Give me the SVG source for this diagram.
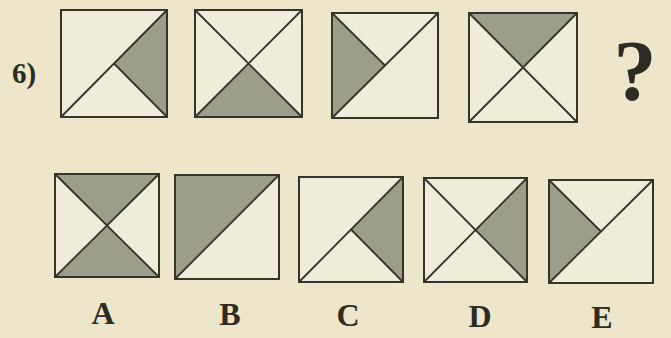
<svg xmlns="http://www.w3.org/2000/svg" width="671" height="338" viewBox="0 0 671 338">
<style>
.bg{fill:#ede6cb}
.box{fill:#efedda}
.fr{fill:none;stroke:#35342a;stroke-width:2}
.sh{fill:#9d9d8b}
.ln{stroke:#35342a;stroke-width:1.8;fill:none;stroke-linecap:round}
.t{font-family:"Liberation Serif",serif;font-weight:bold;fill:#2e2c22}
</style>
<rect class="bg" x="0" y="0" width="671" height="338"/>
<text class="t" x="12" y="83" font-size="29">6)</text>
<g id="q1">
<rect class="box" x="61" y="10" width="106" height="107"/>
<polygon class="sh" points="167,10 167,117 114,63.5"/>
<path class="ln" d="M61,117 L167,10 M114,63.5 L167,117"/>
<rect class="fr" x="61" y="10" width="106" height="107"/>
</g>
<g id="q2">
<rect class="box" x="195" y="10" width="107" height="107"/>
<polygon class="sh" points="195,117 302,117 248.5,63.5"/>
<path class="ln" d="M195,117 L302,10 M195,10 L302,117"/>
<rect class="fr" x="195" y="10" width="107" height="107"/>
</g>
<g id="q3">
<rect class="box" x="332" y="13" width="106" height="105"/>
<polygon class="sh" points="332,13 332,118 385,65.5"/>
<path class="ln" d="M332,118 L438,13 M332,13 L385,65.5"/>
<rect class="fr" x="332" y="13" width="106" height="105"/>
</g>
<g id="q4">
<rect class="box" x="469" y="13" width="108" height="109"/>
<polygon class="sh" points="469,13 577,13 523,67.5"/>
<path class="ln" d="M469,122 L577,13 M469,13 L577,122"/>
<rect class="fr" x="469" y="13" width="108" height="109"/>
</g>
<text class="t" x="635" y="100" font-size="86" text-anchor="middle">?</text>
<g id="A">
<rect class="box" x="55" y="174" width="104" height="103"/>
<polygon class="sh" points="55,174 159,174 107,225.5"/>
<polygon class="sh" points="55,277 159,277 107,225.5"/>
<path class="ln" d="M55,277 L159,174 M55,174 L159,277"/>
<rect class="fr" x="55" y="174" width="104" height="103"/>
<text class="t" x="103" y="324" font-size="32" text-anchor="middle">A</text>
</g>
<g id="B">
<rect class="box" x="175" y="175" width="104" height="104"/>
<polygon class="sh" points="175,175 279,175 175,279"/>
<path class="ln" d="M175,279 L279,175"/>
<rect class="fr" x="175" y="175" width="104" height="104"/>
<text class="t" x="230" y="325" font-size="32" text-anchor="middle">B</text>
</g>
<g id="C">
<rect class="box" x="299" y="177" width="104" height="105"/>
<polygon class="sh" points="403,177 403,282 351,229.5"/>
<path class="ln" d="M299,282 L403,177 M351,229.5 L403,282"/>
<rect class="fr" x="299" y="177" width="104" height="105"/>
<text class="t" x="348" y="326" font-size="32" text-anchor="middle">C</text>
</g>
<g id="D">
<rect class="box" x="424" y="178" width="103" height="104"/>
<polygon class="sh" points="527,178 527,282 475.5,230"/>
<path class="ln" d="M424,282 L527,178 M424,178 L527,282"/>
<rect class="fr" x="424" y="178" width="103" height="104"/>
<text class="t" x="480" y="327" font-size="32" text-anchor="middle">D</text>
</g>
<g id="E">
<rect class="box" x="549" y="180" width="104" height="103"/>
<polygon class="sh" points="549,180 549,283 601,231.5"/>
<path class="ln" d="M549,283 L653,180 M549,180 L601,231.5"/>
<rect class="fr" x="549" y="180" width="104" height="103"/>
<text class="t" x="602" y="328" font-size="32" text-anchor="middle">E</text>
</g>
</svg>
